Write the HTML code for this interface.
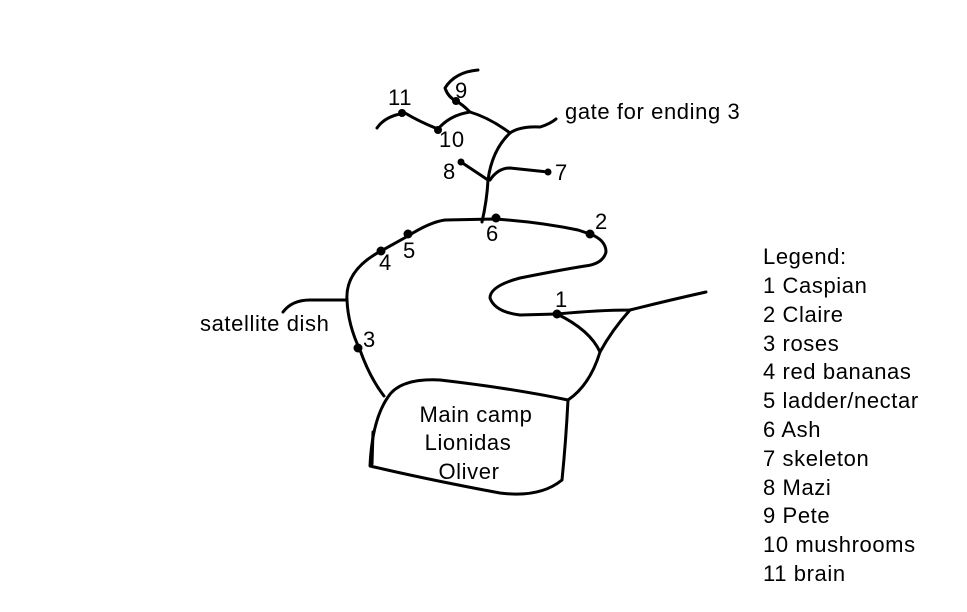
<!DOCTYPE html>
<html><head><meta charset="utf-8"><style>
html,body{margin:0;padding:0;background:#fff;}
svg{display:block;}
text{font-family:"Liberation Sans",Arial,sans-serif;font-size:22px;letter-spacing:0.6px;fill:#000;}
</style></head><body>
<svg width="967" height="612" viewBox="0 0 967 612">
<g fill="none" stroke="#000" stroke-width="3" stroke-linecap="round" stroke-linejoin="round">
<path d="M384,396 Q370,378 360,350 Q348,325 347,300 Q345,270 381,251 L408,236 Q430,222 445,220 L495,219 Q540,222 578,230 L590,234 Q606,240 606,252 Q603,264 585,266 Q560,270 520,278 Q490,286 490,298 Q495,312 520,315 L557,314"/>
<path d="M557,314 Q600,310 630,310 Q670,300 706,292"/>
<path d="M557,314 Q590,330 600,352 Q612,330 630,310"/>
<path d="M600,352 Q590,385 568,400"/>
<path d="M388,397 Q400,378 440,380 Q510,388 568,400 Q566,440 562,480 Q540,498 500,493 Q430,480 370,466 Q372,420 388,397 Z"/>
<path d="M373,432 L372,464"/>
<path d="M283,312 Q292,300 310,300 L347,300"/>
<path d="M482,222 Q487,200 488,180 Q492,150 510,133 Q520,126 540,127 Q550,124 556,119"/>
<path d="M510,133 Q490,118 470,112 Q462,104 456,101"/>
<path d="M478,70 Q455,72 445,88 Q448,97 456,101"/>
<path d="M470,112 Q450,115 438,129 Q420,122 405,113 Q385,116 377,128"/>
<path d="M461,162 L488,180"/>
<path d="M490,180 Q498,168 510,168 L548,172"/>
</g>
<g fill="#000">
<circle cx="557" cy="314" r="4.5"/>
<circle cx="590" cy="234" r="4.5"/>
<circle cx="358" cy="348" r="4.5"/>
<circle cx="381" cy="251" r="4.5"/>
<circle cx="408" cy="234" r="4.5"/>
<circle cx="496" cy="218" r="4.5"/>
<circle cx="548" cy="172" r="3.5"/>
<circle cx="461" cy="162" r="3.5"/>
<circle cx="456" cy="101" r="4"/>
<circle cx="438" cy="130" r="4"/>
<circle cx="402" cy="113" r="4"/>
</g>
<text x="555" y="307">1</text>
<text x="595" y="229">2</text>
<text x="363" y="347">3</text>
<text x="379" y="270">4</text>
<text x="403" y="258">5</text>
<text x="486" y="241">6</text>
<text x="555" y="180">7</text>
<text x="443" y="179">8</text>
<text x="455" y="98">9</text>
<text x="439" y="147">10</text>
<text x="388" y="105">11</text>
<text x="565" y="119">gate for ending 3</text>
<text x="200" y="331">satellite dish</text>
<text x="476" y="422" text-anchor="middle">Main camp</text>
<text x="468" y="450" text-anchor="middle">Lionidas</text>
<text x="469" y="479" text-anchor="middle">Oliver</text>
<g>
<text x="763" y="264">Legend:</text>
<text x="763" y="293">1 Caspian</text>
<text x="763" y="322">2 Claire</text>
<text x="763" y="351">3 roses</text>
<text x="763" y="379">4 red bananas</text>
<text x="763" y="408">5 ladder/nectar</text>
<text x="763" y="437">6 Ash</text>
<text x="763" y="466">7 skeleton</text>
<text x="763" y="495">8 Mazi</text>
<text x="763" y="523">9 Pete</text>
<text x="763" y="552">10 mushrooms</text>
<text x="763" y="581">11 brain</text>
</g>
</svg>
</body></html>
